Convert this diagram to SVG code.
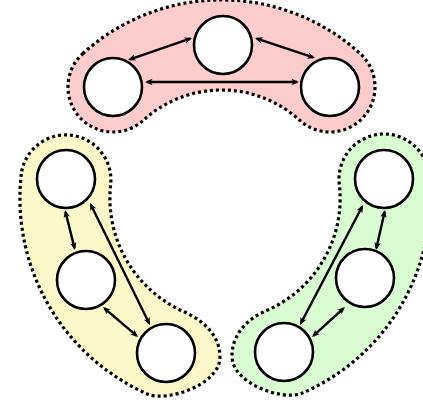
<svg xmlns="http://www.w3.org/2000/svg" width="423" height="406" viewBox="0 0 423 406">
<style>
.blob{stroke:#000;stroke-width:3.2;stroke-dasharray:3 3}
.node{fill:#fff;stroke:#000;stroke-width:2.6}
.edge{fill:none;stroke:#000;stroke-width:2.4;marker-start:url(#ah);marker-end:url(#ah)}
</style>
<defs>
<marker id="ah" markerUnits="userSpaceOnUse" markerWidth="10" markerHeight="8" viewBox="-8 -4 10 8" refX="-2" refY="0" orient="auto-start-reverse">
<path d="M0,0 L-7.5,-3.2 L-5.5,0 L-7.5,3.2 Z" fill="#000"/>
</marker>
</defs>
<rect width="423" height="406" fill="#fff"/>
<g id="group-top">
<path class="blob" fill="#ffcccc" d="M82.7,53.7 A206,206 0 0 1 360.3,53.7 A45,45 0 0 1 299.7,120.3 A116,116 0 0 0 143.3,120.3 A45,45 0 0 1 82.7,53.7 Z"/>
</g>
<g id="group-left">
<path class="blob" fill="#fbf9c9" d="M21.3,173.9 A214.2,214.2 0 0 0 147.9,394.2 C166.3,402.2 220,385 220,357 C220,335 202.4,319.8 184.1,311.8 A124.2,124.2 0 0 1 110.7,184.1 A45,45 0 0 0 21.3,173.9 Z"/>
</g>
<g id="group-right">
<path class="blob" fill="#dafcd2" d="M428.7,173.75 A212.1,212.1 0 0 1 301.8,393.3 C283.4,401.2 232,384 232,356 C232,334 247.8,318.6 266.2,310.7 A122.1,122.1 0 0 0 339.3,184.25 A45,45 0 0 1 428.7,173.75 Z"/>
</g>
<g id="connectors">
<line class="edge" x1="129.9" y1="59.35" x2="190.1" y2="38.65"/>
<line class="edge" x1="256.9" y1="38.6" x2="313.1" y2="57.4"/>
<line class="edge" x1="147" y1="82" x2="297" y2="82"/>
<line class="edge" x1="65.5" y1="211.9" x2="74.5" y2="248.1"/>
<line class="edge" x1="90.9" y1="204.8" x2="149.1" y2="323.2"/>
<line class="edge" x1="104.5" y1="308.3" x2="136.5" y2="335.7"/>
<line class="edge" x1="384.6" y1="212" x2="376.4" y2="248"/>
<line class="edge" x1="362.1" y1="206.8" x2="300.9" y2="323.2"/>
<line class="edge" x1="343.5" y1="308.3" x2="313.5" y2="335.7"/>
</g>
<g id="node-t1"><circle class="node" cx="113" cy="87" r="29"/></g>
<g id="node-t2"><circle class="node" cx="223" cy="45" r="29"/></g>
<g id="node-t3"><circle class="node" cx="330" cy="87" r="29"/></g>
<g id="node-l1"><circle class="node" cx="66" cy="179" r="29"/></g>
<g id="node-l2"><circle class="node" cx="86" cy="280" r="29"/></g>
<g id="node-l3"><circle class="node" cx="166" cy="353" r="29"/></g>
<g id="node-r1"><circle class="node" cx="384" cy="179" r="29"/></g>
<g id="node-r2"><circle class="node" cx="365" cy="278" r="29"/></g>
<g id="node-r3"><circle class="node" cx="284" cy="352" r="29"/></g>
</svg>
